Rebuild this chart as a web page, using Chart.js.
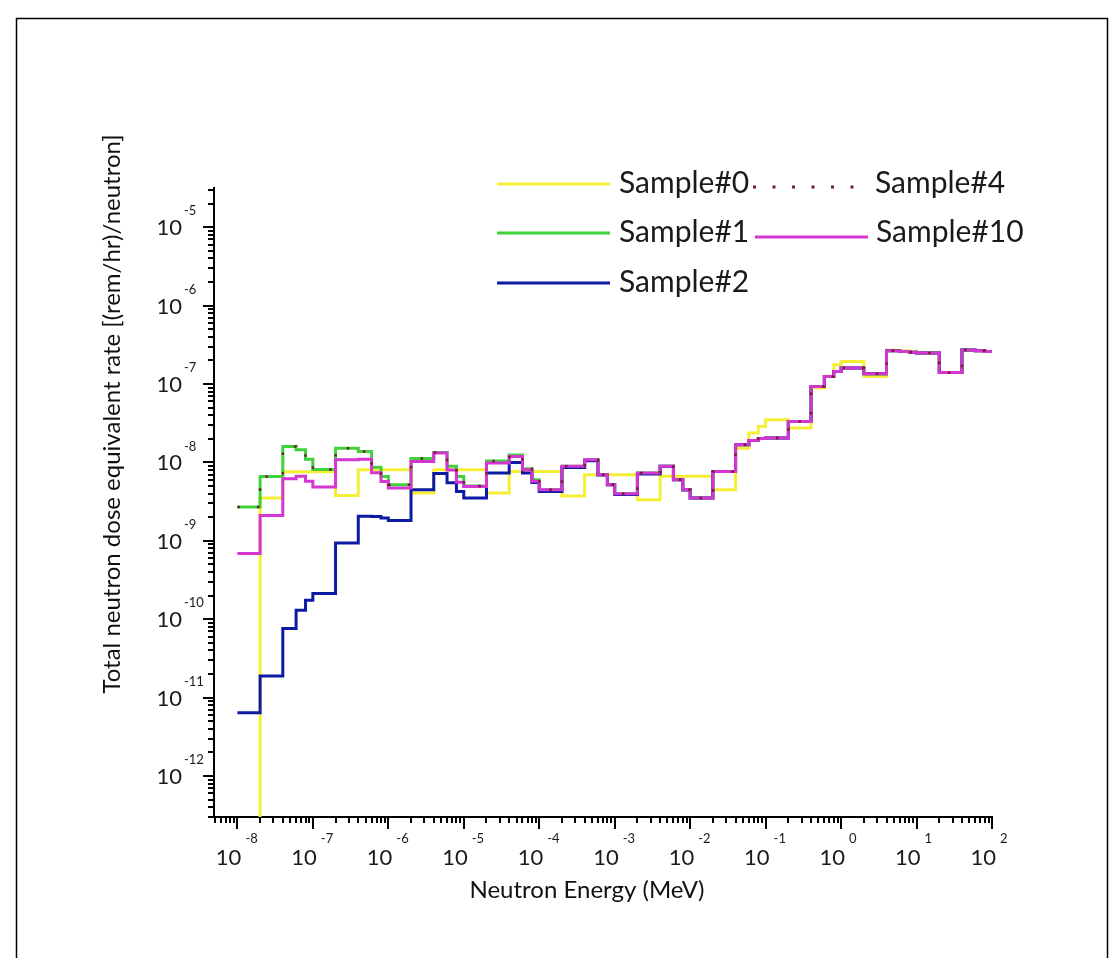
<!DOCTYPE html>
<html>
<head>
<meta charset="utf-8">
<title>Total neutron dose equivalent rate</title>
<script src="https://cdn.jsdelivr.net/npm/chart.js@4.4.1/dist/chart.umd.min.js"></script>
<style>
  html, body { margin: 0; padding: 0; background: #ffffff; }
  #wrap { position: relative; width: 1113px; height: 958px; }
  canvas { display: block; }
</style>
</head>
<body>
<div id="wrap"><canvas id="chart" width="1113" height="958"></canvas></div>
<script>
// Energy bin edges in MeV: each decade split at 1, 2, 4, 6, 8 x 10^n
const energyEdges = [
  1e-8, 2e-8, 4e-8, 6e-8, 8e-8,
  1e-7, 2e-7, 4e-7, 6e-7, 8e-7,
  1e-6, 2e-6, 4e-6, 6e-6, 8e-6,
  1e-5, 2e-5, 4e-5, 6e-5, 8e-5,
  1e-4, 2e-4, 4e-4, 6e-4, 8e-4,
  1e-3, 2e-3, 4e-3, 6e-3, 8e-3,
  1e-2, 2e-2, 4e-2, 6e-2, 8e-2,
  1e-1, 2e-1, 4e-1, 6e-1, 8e-1,
  1, 2, 4, 6, 8,
  10, 20, 40, 60, 80,
  100
];

// Dose equivalent rate per bin, (rem/hr)/neutron
// Sample#0 has no counts in the first bin; it is given a floor value under the axis.
const sample0 = [
  1e-14,   3.52e-9, 7.6e-9,  7.6e-9,  7.6e-9,
  7.6e-9,  3.77e-9, 8.07e-9, 8.07e-9, 8.07e-9,
  8.07e-9, 4.07e-9, 8.07e-9, 8.07e-9, 8.07e-9,
  8.07e-9, 4.07e-9, 7.67e-9, 7.67e-9, 7.67e-9,
  7.67e-9, 3.72e-9, 6.97e-9, 6.97e-9, 6.97e-9,
  6.97e-9, 3.35e-9, 6.64e-9, 6.64e-9, 6.64e-9,
  6.64e-9, 4.49e-9, 1.52e-8, 2.37e-8, 2.88e-8,
  3.50e-8, 2.75e-8, 8.9e-8,  1.26e-7, 1.76e-7,
  1.94e-7, 1.25e-7, 2.69e-7, 2.66e-7, 2.60e-7,
  2.50e-7, 1.40e-7, 2.72e-7, 2.66e-7, 2.60e-7
];

const sample1 = [
  2.7e-9,  6.6e-9,  1.6e-8,  1.45e-8, 1.1e-8,
  8.1e-9,  1.52e-8, 1.38e-8, 8.7e-9,  6.6e-9,
  5.2e-9,  1.12e-8, 1.34e-8, 8.9e-9,  6.6e-9,
  5.0e-9,  1.04e-8, 1.24e-8, 8.3e-9,  6.0e-9,
  4.49e-9, 8.9e-9,  1.08e-8, 6.97e-9, 5.2e-9,
  3.98e-9, 7.33e-9, 8.9e-9,  6.03e-9, 4.49e-9,
  3.52e-9, 7.67e-9, 1.68e-8, 1.9e-8,  2.02e-8,
  2.05e-8, 3.33e-8, 9.29e-8, 1.25e-7, 1.44e-7,
  1.60e-7, 1.35e-7, 2.66e-7, 2.60e-7, 2.54e-7,
  2.48e-7, 1.40e-7, 2.72e-7, 2.66e-7, 2.60e-7
];

const sample2 = [
  6.41e-12, 1.88e-11, 7.6e-11, 1.30e-10, 1.75e-10,
  2.12e-10, 9.4e-10,  2.05e-9, 2.04e-9,  1.95e-9,
  1.81e-9,  4.49e-9,  7.2e-9,  5.5e-9,   4.27e-9,
  3.52e-9,  7.33e-9,  1.0e-8,  7.33e-9,  5.56e-9,
  4.27e-9,  8.6e-9,   1.05e-8, 6.9e-9,   5.2e-9,
  3.9e-9,   7.1e-9,   8.9e-9,  6.0e-9,   4.45e-9,
  3.52e-9,  7.67e-9,  1.68e-8, 1.9e-8,   2.02e-8,
  2.05e-8,  3.33e-8,  9.29e-8, 1.25e-7,  1.44e-7,
  1.60e-7,  1.35e-7,  2.66e-7, 2.60e-7,  2.54e-7,
  2.48e-7,  1.40e-7,  2.72e-7, 2.66e-7,  2.60e-7
];

const sample4 = [
  2.7e-9,  6.6e-9,  1.6e-8,  1.45e-8, 1.1e-8,
  8.1e-9,  1.52e-8, 1.38e-8, 8.7e-9,  6.6e-9,
  5.2e-9,  1.12e-8, 1.34e-8, 8.9e-9,  6.6e-9,
  5.0e-9,  1.04e-8, 1.24e-8, 8.3e-9,  6.0e-9,
  4.49e-9, 8.9e-9,  1.08e-8, 6.97e-9, 5.2e-9,
  3.98e-9, 7.33e-9, 8.9e-9,  6.03e-9, 4.49e-9,
  3.52e-9, 7.67e-9, 1.68e-8, 1.9e-8,  2.02e-8,
  2.05e-8, 3.33e-8, 9.29e-8, 1.25e-7, 1.44e-7,
  1.60e-7, 1.35e-7, 2.66e-7, 2.60e-7, 2.54e-7,
  2.48e-7, 1.40e-7, 2.72e-7, 2.66e-7, 2.60e-7
];

const sample10 = [
  6.87e-10, 2.11e-9, 6.19e-9, 6.64e-9, 5.73e-9,
  4.85e-9,  1.08e-8, 1.10e-8, 7.4e-9,  5.7e-9,
  4.7e-9,   1.03e-8, 1.32e-8, 8.0e-9,  5.6e-9,
  4.94e-9,  9.8e-9,  1.19e-8, 8.07e-9, 5.75e-9,
  4.49e-9,  8.9e-9,  1.08e-8, 6.97e-9, 5.2e-9,
  3.98e-9,  7.33e-9, 8.9e-9,  6.03e-9, 4.49e-9,
  3.52e-9,  7.67e-9, 1.68e-8, 1.9e-8,  2.02e-8,
  2.05e-8,  3.33e-8, 9.29e-8, 1.25e-7, 1.44e-7,
  1.60e-7,  1.35e-7, 2.66e-7, 2.60e-7, 2.54e-7,
  2.48e-7,  1.40e-7, 2.72e-7, 2.66e-7, 2.60e-7
];

const seriesLabels = ['Sample#0', 'Sample#1', 'Sample#2', 'Sample#4', 'Sample#10'];
const seriesColors = ['#f4ef35', '#3fd23c', '#0d1ba4', '#6e1f2b', '#d535d3'];

// Decade exponents that carry "10^n" labels
const xTickExponents = [-8, -7, -6, -5, -4, -3, -2, -1, 0, 1, 2];
const yTickExponents = [-12, -11, -10, -9, -8, -7, -6, -5];

const xTitle = 'Neutron Energy (MeV)';
const yTitle = 'Total neutron dose equivalent rate [(rem/hr)/neutron]';

const FONT = 'Lato, "Open Sans", "DejaVu Sans", sans-serif';

// Histogram points: each bin value is held from its lower edge to the next edge
function stepPoints(values) {
  return energyEdges.map((e, i) => ({ x: e, y: values[Math.min(i, values.length - 1)] }));
}

function lineDataset(label, values, color, order, extra) {
  return Object.assign({
    label: label,
    data: stepPoints(values),
    borderColor: color,
    backgroundColor: color,
    borderWidth: 3,
    stepped: 'before',
    pointRadius: 0,
    fill: false,
    order: order,
    borderJoinStyle: 'miter',
    borderCapStyle: 'butt'
  }, extra || {});
}

const datasets = [
  lineDataset(seriesLabels[0], sample0, seriesColors[0], 5),
  lineDataset(seriesLabels[1], sample1, seriesColors[1], 4),
  lineDataset(seriesLabels[2], sample2, seriesColors[2], 3),
  lineDataset(seriesLabels[3], sample4, seriesColors[3], 0, { borderWidth: 2.5, borderDash: [2.5, 17] }),
  lineDataset(seriesLabels[4], sample10, seriesColors[4], 1)
];

// Legend layout: [dataset index, line start, line end, line y, text x, text baseline]
const legendRows = [
  [0, 497, 610, 184, 619, 193],
  [3, 753, 868, 187, 875, 193],
  [1, 497, 610, 233, 619, 242],
  [4, 755, 868, 237, 876, 242],
  [2, 497, 610, 283, 619, 292]
];

const decor = {
  id: 'decor',
  afterDraw(chart) {
    const ctx = chart.ctx;
    const xs = chart.scales.x;
    const ys = chart.scales.y;
    const a = chart.chartArea;
    ctx.save();

    // outer frame
    ctx.strokeStyle = '#000';
    ctx.lineWidth = 1.5;
    ctx.strokeRect(16.5, 18.5, 1091, 980);

    // log tick marks, outward
    ctx.lineWidth = 2;
    ctx.strokeStyle = '#000';
    for (let d = -10; d <= 2; d++) {
      for (let m = 1; m <= 9; m++) {
        const v = m * Math.pow(10, d);
        if (v >= xs.min * 0.999 && v <= xs.max * 1.001) {
          const px = Math.round(xs.getPixelForValue(v));
          const len = m === 1 ? 12 : 6;
          ctx.beginPath();
          ctx.moveTo(px, a.bottom);
          ctx.lineTo(px, a.bottom + len);
          ctx.stroke();
        }
      }
    }
    for (let d = -13; d <= -4; d++) {
      for (let m = 1; m <= 9; m++) {
        const v = m * Math.pow(10, d);
        if (v >= ys.min * 0.999 && v <= ys.max * 1.001) {
          const py = Math.round(ys.getPixelForValue(v));
          const len = m === 1 ? 11 : 6;
          ctx.beginPath();
          ctx.moveTo(a.left, py);
          ctx.lineTo(a.left - len, py);
          ctx.stroke();
        }
      }
    }

    // decade labels as 10 with raised exponent
    ctx.fillStyle = '#1a1a1a';
    ctx.textBaseline = 'middle';
    xTickExponents.forEach((e) => {
      const px = xs.getPixelForValue(Math.pow(10, e));
      ctx.font = '22px ' + FONT;
      ctx.textAlign = 'right';
      ctx.fillText('10', px + 4, 858);
      ctx.font = '13px ' + FONT;
      ctx.textAlign = 'left';
      ctx.fillText(String(e), px + 8, 839);
    });
    yTickExponents.forEach((e) => {
      const py = ys.getPixelForValue(Math.pow(10, e));
      ctx.font = '22px ' + FONT;
      ctx.textAlign = 'right';
      ctx.fillText('10', 182, py + 1);
      ctx.font = '13px ' + FONT;
      ctx.textAlign = 'left';
      ctx.fillText(String(e), 184, py - 16);
    });

    // axis titles
    ctx.fillStyle = '#111';
    ctx.font = '24px ' + FONT;
    ctx.textAlign = 'center';
    ctx.textBaseline = 'middle';
    ctx.fillText(xTitle, 587, 890);
    ctx.save();
    ctx.translate(112, 414);
    ctx.rotate(-Math.PI / 2);
    ctx.font = '24px ' + FONT;
    ctx.fillText(yTitle, 0, 0);
    ctx.restore();

    // legend
    legendRows.forEach(([idx, x0, x1, y, tx, ty]) => {
      const ds = chart.data.datasets[idx];
      ctx.save();
      ctx.strokeStyle = ds.borderColor;
      ctx.lineWidth = 3;
      ctx.setLineDash(ds.borderDash ? [3, 16.5] : []);
      ctx.beginPath();
      ctx.moveTo(x0, y);
      ctx.lineTo(x1, y);
      ctx.stroke();
      ctx.restore();
      ctx.fillStyle = '#1a1a1a';
      ctx.font = '30px ' + FONT;
      ctx.textAlign = 'left';
      ctx.textBaseline = 'alphabetic';
      ctx.fillText(ds.label, tx, ty);
    });

    ctx.restore();
  }
};

new Chart(document.getElementById('chart').getContext('2d'), {
  type: 'line',
  data: { datasets: datasets },
  options: {
    responsive: false,
    animation: false,
    events: [],
    layout: { padding: { left: 214, top: 188, right: 121, bottom: 141 } },
    plugins: {
      legend: { display: false },
      tooltip: { enabled: false },
      title: { display: false }
    },
    scales: {
      x: {
        type: 'logarithmic',
        min: 4.9e-9,
        max: 100,
        grid: { display: false, drawTicks: false },
        ticks: { display: false },
        border: { display: true, color: '#000', width: 2 },
        afterFit(scale) { scale.height = 0; }
      },
      y: {
        type: 'logarithmic',
        min: Math.pow(10, -12.5),
        max: Math.pow(10, -4.5),
        grid: { display: false, drawTicks: false },
        ticks: { display: false },
        border: { display: true, color: '#000', width: 2 },
        afterFit(scale) { scale.width = 0; }
      }
    }
  },
  plugins: [decor]
});
</script>
</body>
</html>
